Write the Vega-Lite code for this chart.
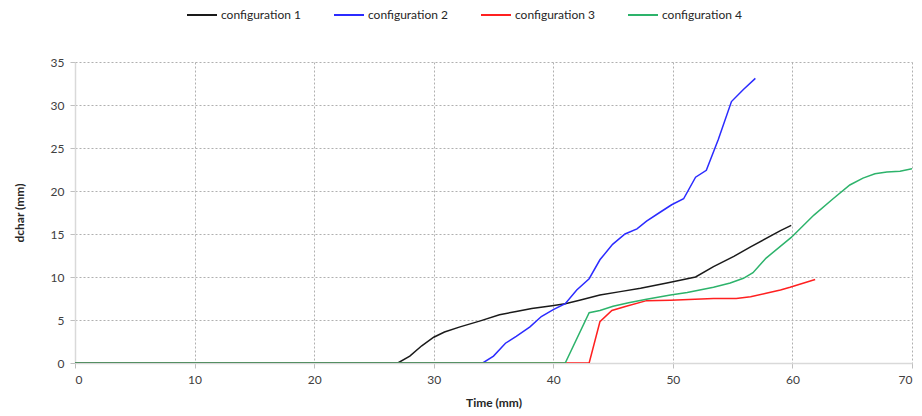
{
  "$schema": "https://vega.github.io/schema/vega-lite/v6.json",
  "width": 837,
  "height": 301,
  "autosize": {"type": "none"},
  "padding": {"left": 75, "top": 62, "right": 10, "bottom": 53},
  "background": "white",
  "config": {
    "view": {"stroke": null},
    "font": "Lato",
    "axis": {
      "labelFont": "Lato",
      "titleFont": "Lato",
      "labelFontSize": 12,
      "labelColor": "#404040",
      "titleFontSize": 12,
      "titleFontWeight": "bold",
      "titleColor": "#262626",
      "gridColor": "#b0b0b0",
      "gridDash": [2, 2],
      "gridWidth": 1,
      "domainColor": "#d9d9d9",
      "domainWidth": 1.5,
      "tickColor": "#bfbfbf",
      "tickSize": 5
    },
    "legend": {"labelFont": "Lato", "labelFontSize": 12, "labelColor": "#262626"}
  },
  "data": {
    "values": [
      {"config": "configuration 1", "t": 0, "d": 0},
      {"config": "configuration 1", "t": 27.0, "d": 0},
      {"config": "configuration 1", "t": 28.0, "d": 0.8},
      {"config": "configuration 1", "t": 29.0, "d": 2.0},
      {"config": "configuration 1", "t": 30.0, "d": 3.0},
      {"config": "configuration 1", "t": 30.9, "d": 3.6},
      {"config": "configuration 1", "t": 32.2, "d": 4.2},
      {"config": "configuration 1", "t": 33.9, "d": 4.9},
      {"config": "configuration 1", "t": 35.5, "d": 5.6},
      {"config": "configuration 1", "t": 36.9, "d": 6.0},
      {"config": "configuration 1", "t": 38.2, "d": 6.35},
      {"config": "configuration 1", "t": 39.9, "d": 6.67},
      {"config": "configuration 1", "t": 41.0, "d": 6.9},
      {"config": "configuration 1", "t": 42.2, "d": 7.3},
      {"config": "configuration 1", "t": 43.9, "d": 7.9},
      {"config": "configuration 1", "t": 45.6, "d": 8.3},
      {"config": "configuration 1", "t": 47.3, "d": 8.7},
      {"config": "configuration 1", "t": 49.5, "d": 9.3},
      {"config": "configuration 1", "t": 51.9, "d": 10.0},
      {"config": "configuration 1", "t": 53.4, "d": 11.2},
      {"config": "configuration 1", "t": 55.1, "d": 12.4},
      {"config": "configuration 1", "t": 56.5, "d": 13.5},
      {"config": "configuration 1", "t": 59.0, "d": 15.4},
      {"config": "configuration 1", "t": 59.9, "d": 16.0},

      {"config": "configuration 2", "t": 0, "d": 0},
      {"config": "configuration 2", "t": 34.1, "d": 0},
      {"config": "configuration 2", "t": 35.0, "d": 0.8},
      {"config": "configuration 2", "t": 36.0, "d": 2.3},
      {"config": "configuration 2", "t": 36.9, "d": 3.1},
      {"config": "configuration 2", "t": 38.05, "d": 4.2},
      {"config": "configuration 2", "t": 39.0, "d": 5.4},
      {"config": "configuration 2", "t": 40.0, "d": 6.2},
      {"config": "configuration 2", "t": 41.0, "d": 6.9},
      {"config": "configuration 2", "t": 41.96, "d": 8.5},
      {"config": "configuration 2", "t": 43.0, "d": 9.8},
      {"config": "configuration 2", "t": 43.9, "d": 12.0},
      {"config": "configuration 2", "t": 44.96, "d": 13.8},
      {"config": "configuration 2", "t": 46.0, "d": 15.0},
      {"config": "configuration 2", "t": 47.0, "d": 15.6},
      {"config": "configuration 2", "t": 47.8, "d": 16.5},
      {"config": "configuration 2", "t": 48.9, "d": 17.5},
      {"config": "configuration 2", "t": 49.9, "d": 18.4},
      {"config": "configuration 2", "t": 50.9, "d": 19.1},
      {"config": "configuration 2", "t": 51.9, "d": 21.6},
      {"config": "configuration 2", "t": 52.8, "d": 22.4},
      {"config": "configuration 2", "t": 53.8, "d": 26.0},
      {"config": "configuration 2", "t": 54.9, "d": 30.4},
      {"config": "configuration 2", "t": 55.9, "d": 31.8},
      {"config": "configuration 2", "t": 56.9, "d": 33.1},

      {"config": "configuration 3", "t": 0, "d": 0},
      {"config": "configuration 3", "t": 43.0, "d": 0},
      {"config": "configuration 3", "t": 43.9, "d": 4.8},
      {"config": "configuration 3", "t": 44.9, "d": 6.1},
      {"config": "configuration 3", "t": 46.1, "d": 6.6},
      {"config": "configuration 3", "t": 47.8, "d": 7.25},
      {"config": "configuration 3", "t": 49.8, "d": 7.3},
      {"config": "configuration 3", "t": 53.4, "d": 7.5},
      {"config": "configuration 3", "t": 55.3, "d": 7.5},
      {"config": "configuration 3", "t": 56.5, "d": 7.7},
      {"config": "configuration 3", "t": 57.8, "d": 8.1},
      {"config": "configuration 3", "t": 59.0, "d": 8.5},
      {"config": "configuration 3", "t": 59.8, "d": 8.8},
      {"config": "configuration 3", "t": 61.9, "d": 9.7},

      {"config": "configuration 4", "t": 0, "d": 0},
      {"config": "configuration 4", "t": 41.0, "d": 0},
      {"config": "configuration 4", "t": 43.0, "d": 5.85},
      {"config": "configuration 4", "t": 43.9, "d": 6.1},
      {"config": "configuration 4", "t": 45.0, "d": 6.6},
      {"config": "configuration 4", "t": 46.3, "d": 7.0},
      {"config": "configuration 4", "t": 47.8, "d": 7.4},
      {"config": "configuration 4", "t": 49.8, "d": 7.9},
      {"config": "configuration 4", "t": 51.2, "d": 8.2},
      {"config": "configuration 4", "t": 53.4, "d": 8.8},
      {"config": "configuration 4", "t": 54.8, "d": 9.3},
      {"config": "configuration 4", "t": 55.9, "d": 9.85},
      {"config": "configuration 4", "t": 56.7, "d": 10.5},
      {"config": "configuration 4", "t": 57.8, "d": 12.2},
      {"config": "configuration 4", "t": 59.9, "d": 14.6},
      {"config": "configuration 4", "t": 61.8, "d": 17.2},
      {"config": "configuration 4", "t": 63.4, "d": 19.1},
      {"config": "configuration 4", "t": 64.8, "d": 20.7},
      {"config": "configuration 4", "t": 65.9, "d": 21.5},
      {"config": "configuration 4", "t": 66.9, "d": 22.0},
      {"config": "configuration 4", "t": 67.9, "d": 22.2},
      {"config": "configuration 4", "t": 69.0, "d": 22.3},
      {"config": "configuration 4", "t": 70.0, "d": 22.6}
    ]
  },
  "mark": {"type": "line", "strokeWidth": 1.5, "clip": true},
  "encoding": {
    "x": {
      "field": "t",
      "type": "quantitative",
      "title": "Time (mm)",
      "scale": {"domain": [0, 70], "nice": false, "zero": true},
      "axis": {"values": [0, 10, 20, 30, 40, 50, 60, 70], "labelPadding": 6, "titlePadding": 12}
    },
    "y": {
      "field": "d",
      "type": "quantitative",
      "title": "dchar (mm)",
      "scale": {"domain": [0, 35], "nice": false},
      "axis": {"values": [0, 5, 10, 15, 20, 25, 30, 35], "labelPadding": 6, "titlePadding": 24}
    },
    "color": {
      "field": "config",
      "type": "nominal",
      "title": null,
      "scale": {
        "domain": ["configuration 1", "configuration 2", "configuration 3", "configuration 4"],
        "range": ["#1a1a1a", "#2b2bff", "#ff2020", "#2db36b"]
      },
      "legend": {
        "orient": "none",
        "direction": "horizontal",
        "legendX": 111,
        "legendY": -63,
        "symbolType": "stroke",
        "symbolSize": 900,
        "symbolStrokeWidth": 2,
        "labelOffset": 3,
        "columnPadding": 29
      }
    }
  }
}
